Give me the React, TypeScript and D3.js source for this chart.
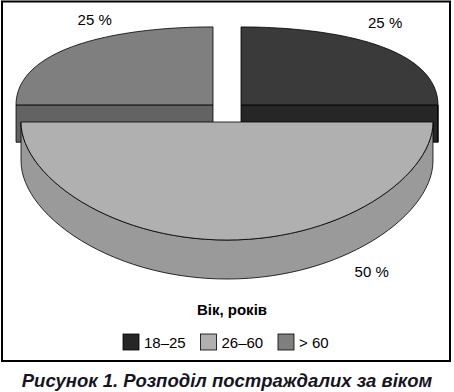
import * as d3 from 'd3'

const categories = ['18–25', '26–60', '> 60']
const shares = [25, 50, 25]
const shareLabels = ['25 %', '50 %', '25 %']
const topColors = ['#3a3a3a', '#b0b0b0', '#7f7f7f']
const sideColors = ['#262626', '#9a9a9a', '#636363']
const legendTitle = 'Вік, років'
const caption = 'Рисунок 1. Розподіл постраждалих за віком'

const width = 454
const height = 392
const font = "Arial, 'Liberation Sans', sans-serif"

// 3d pie geometry (excel-ish perspective)
const cx = 227
const cy = 112
const rx = 200.7
const ryMid = 97.25
const ryTilt = 17.75
const depth = 38
const explodeX = 19.8
const explodeY = 10
const persp = 0.0263

// where each percent label sits: [angle deg, radius, level]
const labelPlace = [[36, 1.245, 0], [144, 1.195, 1], [-29.5, 1.22, 0]]

const line = d3.line()

function App() {
  const arcs = d3.pie<number>().sort(null).value(d => d)(shares)

  const slices = arcs.map((a, i) => {
    const mid = (a.startAngle + a.endAngle) / 2
    const s = 1 - persp * Math.cos(mid)
    const ox = cx + explodeX * Math.sin(mid)
    const oy = cy - explodeY * Math.cos(mid)
    const pt = (t: number, u: number, lvl: number): [number, number] => [
      ox + s * rx * u * Math.sin(t),
      oy - s * u * (ryMid - ryTilt * Math.cos(t)) * Math.cos(t) + lvl * s * depth,
    ]
    const sample = (t0: number, t1: number) =>
      d3.range(61).map(k => t0 + (t1 - t0) * k / 60)

    const top = line([pt(0, 0, 0), ...sample(a.startAngle, a.endAngle).map(t => pt(t, 1, 0))]) + 'Z'

    // flat radial faces that turn toward the viewer
    const faces: string[] = []
    ;[[a.startAngle, -Math.PI / 2], [a.endAngle, Math.PI / 2]].forEach(([t, rot]) => {
      if (-Math.cos(t + rot) > 1e-6) {
        faces.push(line([pt(t, 0, 0), pt(t, 1, 0), pt(t, 1, 1), pt(t, 0, 1)]) + 'Z')
      }
    })

    // curved outer wall, front half only
    let wall: string | null = null
    const w0 = Math.max(a.startAngle, Math.PI / 2)
    const w1 = Math.min(a.endAngle, Math.PI * 3 / 2)
    if (w1 > w0) {
      const ts = sample(w0, w1)
      wall = line([...ts.map(t => pt(t, 1, 0)), ...ts.slice().reverse().map(t => pt(t, 1, 1))]) + 'Z'
    }

    const [la, lr, ll] = labelPlace[i]
    const lp = pt(la * Math.PI / 180, lr, ll)

    return { i, mid, top, faces, wall, lp }
  })

  const order = slices.slice().sort((p, q) => -Math.cos(p.mid) + Math.cos(q.mid))

  const legendX = d3.scalePoint<string>().domain(categories).range([123, 278])

  return (
    <svg width={width} height={height} style={{ position: 'absolute', left: 0, top: 0, background: '#fff' }}>
      <rect x={2} y={1.5} width={448} height={359.5} fill="#fff" stroke="#000" strokeWidth={2} />
      {order.map(d => (
        <g key={d.i} stroke="#000" strokeWidth={0.8} strokeLinejoin="round">
          {d.faces.map((f, k) => <path key={k} d={f} fill={sideColors[d.i]} />)}
          {d.wall && <path d={d.wall} fill={sideColors[d.i]} />}
          <path d={d.top} fill={topColors[d.i]} />
        </g>
      ))}
      {slices.map(d => (
        <text key={d.i} x={d.lp[0]} y={d.lp[1] + 5} textAnchor="middle" fontFamily={font} fontSize={15} fill="#000">
          {shareLabels[d.i]}
        </text>
      ))}
      <text x={232} y={315} textAnchor="middle" fontFamily={font} fontSize={15} fontWeight="bold">{legendTitle}</text>
      {categories.map((c, i) => (
        <g key={c} transform={`translate(${legendX(c)},334)`}>
          <rect width={16} height={16} fill={i === 0 ? sideColors[0] : topColors[i]} stroke="#000" strokeWidth={0.8} />
          <text x={21} y={13.5} fontFamily={font} fontSize={15}>{c}</text>
        </g>
      ))}
      <text x={227} y={387} textAnchor="middle" fontFamily={font} fontSize={18.5} fontWeight="bold" fontStyle="italic" fill="#15151f">
        {caption}
      </text>
    </svg>
  )
}

export default App
